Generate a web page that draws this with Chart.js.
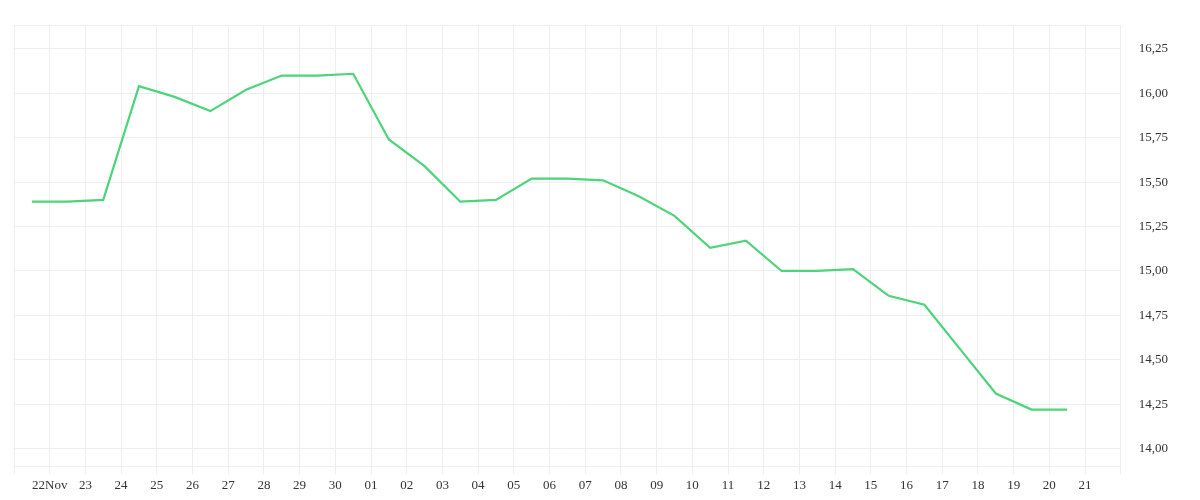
<!DOCTYPE html>
<html><head><meta charset="utf-8">
<script src="https://cdn.jsdelivr.net/npm/chart.js@4"></script>
<style>html,body{margin:0;padding:0;background:#fff}#w{width:1200px;height:500px}</style>
</head><body><div id="w"><canvas id="c"></canvas></div>
<script>
const tickLabels = ["22Nov","23","24","25","26","27","28","29","30","01","02","03","04","05","06","07","08","09","10","11","12","13","14","15","16","17","18","19","20","21"];
const values = [15.39,15.39,15.40,16.04,15.98,15.90,16.02,16.10,16.10,16.11,15.74,15.59,15.39,15.40,15.52,15.52,15.51,15.42,15.31,15.13,15.17,15.00,15.00,15.01,14.86,14.81,14.56,14.31,14.22,14.22];
const pts = values.map((v,i)=>({x:i-0.5,y:v}));
const font = {family:"'Liberation Serif', serif", size:13};
new Chart(document.getElementById('c'),{
  type:'line',
  data:{datasets:[{data:pts,borderColor:'#4dd47a',borderWidth:2.2,pointRadius:0,tension:0,fill:false}]},
  options:{
    responsive:true,maintainAspectRatio:false,animation:false,
    layout:{padding:{left:14,top:12,right:14,bottom:4}},
    plugins:{legend:{display:false},tooltip:{enabled:false}},
    scales:{
      x:{type:'linear',min:-1,max:30,
        afterBuildTicks:ax=>{ax.ticks=[];for(let i=-1;i<=30;i++)ax.ticks.push({value:i});},
        grid:{color:'#eeeeee',tickLength:8,drawTicks:true},
        border:{display:false},
        ticks:{font,color:'#333',maxRotation:0,autoSkip:false,
          callback:v=>{const i=Math.round(v);return (i>=0&&i<tickLabels.length)?tickLabels[i]:'';}}},
      y:{position:'right',min:13.9,max:16.38,
        afterBuildTicks:ax=>{ax.ticks=[];for(let v=14.0;v<=16.26;v+=0.25)ax.ticks.push({value:Math.round(v*100)/100});ax.ticks.push({value:13.9});ax.ticks.push({value:16.38});},
        grid:{color:'#eeeeee',drawTicks:false},
        border:{display:false},
        ticks:{font,color:'#333',padding:18,
          callback:v=>(v===13.9||v===16.38)?'':v.toFixed(2).replace('.',',')}}
    }
  }
});
</script></body></html>
